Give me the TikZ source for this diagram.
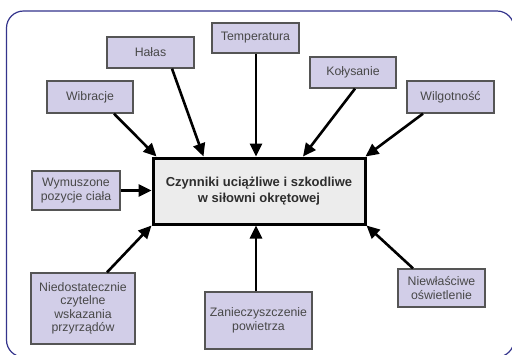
\documentclass[tikz,border=0pt]{standalone}
\usepackage{fontspec}
\setmainfont{Liberation Sans}
\usetikzlibrary{arrows.meta}
\definecolor{framecol}{RGB}{52,52,140}
\definecolor{boxfill}{RGB}{210,206,232}
\definecolor{boxline}{RGB}{85,85,85}
\definecolor{txtcol}{RGB}{72,72,72}
\definecolor{cfill}{RGB}{236,236,236}
\tikzset{
  fbox/.style={draw=boxline, line width=1.3pt, fill=boxfill, text=txtcol, align=center,
    inner sep=0pt, font=\fontsize{12.3}{13.4}\selectfont},
  cbox/.style={draw=black, line width=3pt, fill=cfill, text={rgb,255:red,45;green,45;blue,45}, align=center,
    inner sep=0pt, font=\fontsize{13}{16.7}\selectfont\bfseries,
    minimum width=212pt, minimum height=66pt},
  arr/.style={line width=2.6pt, black, -{Triangle[length=13pt,width=12pt]}}
}
\begin{document}
\begin{tikzpicture}[x=1pt,y=-1pt]
\useasboundingbox (0,0) rectangle (512,354);
\clip (0,0) rectangle (512,354);
\fill[white] (0,0) rectangle (512,354);
\draw[framecol, line width=1.2pt, rounded corners=17pt] (6.5,11) rectangle (514,357);

\node[cbox] (c) at (259,191) {Czynniki uciążliwe i szkodliwe\\w siłowni okrętowej};

\node[fbox, minimum width=87pt, minimum height=31pt] (halas) at (150.5,52.5) {Hałas};
\node[fbox, minimum width=86pt, minimum height=32pt] (wibr) at (90,97) {Wibracje};
\node[fbox, minimum width=87pt, minimum height=30pt] (temp) at (255.5,38) {Temperatura};
\node[fbox, minimum width=86pt, minimum height=31pt] (kol) at (353,72.5) {Kołysanie};
\node[fbox, minimum width=87pt, minimum height=32pt] (wilg) at (450.5,97) {Wilgotność};
\node[fbox, minimum width=88pt, minimum height=39pt] (wym) at (76,190.5) {Wymuszone\\pozycje ciała};
\node[fbox, minimum width=104pt, minimum height=71pt] (nied) at (83,308.5) {Niedostatecznie\\czytelne\\wskazania\\przyrządów};
\node[fbox, minimum width=107pt, minimum height=57pt] (zan) at (258.5,320.5) {Zanieczyszczenie\\powietrza};
\node[fbox, minimum width=87pt, minimum height=38pt] (niew) at (441.5,288) {Niewłaściwe\\oświetlenie};

\draw[arr] ([xshift=24pt]wibr.south) -- ([xshift=5pt]c.north west);
\draw[arr] ([xshift=21.5pt]halas.south) -- ([xshift=52pt]c.north west);
\draw[arr] ([xshift=0.5pt]temp.south) -- ([xshift=-3pt]c.north);
\draw[arr] ([xshift=2pt]kol.south) -- ([xshift=44pt]c.north);
\draw[arr] ([xshift=-27.5pt]wilg.south) -- ([xshift=-1pt]c.north east);
\draw[arr] (wym.east) -- (wym.east -| c.west);
\draw[arr] ([xshift=24pt]nied.north) -- (c.south west);
\draw[arr] ([xshift=-2.5pt]zan.north) -- ([xshift=-3pt]c.south);
\draw[arr] ([xshift=-28.5pt]niew.north) -- (c.south east);
\end{tikzpicture}
\end{document}
